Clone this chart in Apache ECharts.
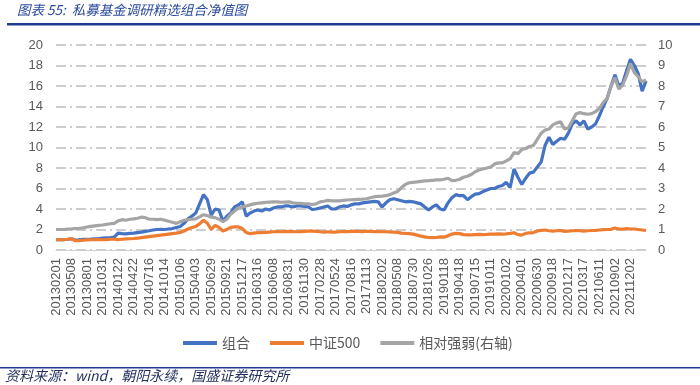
<!DOCTYPE html>
<html>
<head>
<meta charset="utf-8">
<script src="https://cdn.jsdelivr.net/npm/echarts@6/dist/echarts.min.js"></script>
<style>html,body{margin:0;padding:0;background:#fff}#c{width:700px;height:385px}</style>
</head>
<body>
<div id="c"></div>
<script>
// Tick label dates (every ~60 trading days)
const tickDates = ['20130201','20130508','20130801','20131031','20140122','20140422','20140716','20141014','20150106','20150403','20150629','20150921','20151217','20160316','20160608','20160831','20161130','20170228','20170524','20170816','20171113','20180202','20180508','20180730','20181026','20190118','20190418','20190715','20191011','20200102','20200401','20200630','20200918','20201217','20210317','20210611','20210902','20211202'];
const endDate = '20220301';
const pointsPerTick = 4;

// 组合 (left axis), 4 readings per tick interval + final point
const portfolio = [
1.0,1.0,1.02,1.05, 1.1,0.95,1.0,1.03, 1.05,1.07,1.1,1.12, 1.15,1.18,1.2,1.25,
1.65,1.6,1.58,1.62, 1.65,1.7,1.75,1.82, 1.88,1.95,2.0,2.02, 2.0,2.05,2.1,2.2,
2.3,2.6,3.05,3.3, 3.6,4.5,5.4,4.9, 3.4,4.0,3.9,2.8, 3.3,3.6,4.2,4.4,
4.7,3.3,3.6,3.8, 3.9,3.8,4.0,3.9, 4.1,4.2,4.2,4.3, 4.3,4.2,4.3,4.3,
4.25,4.2,3.95,4.0, 4.1,4.2,4.3,4.0, 4.0,4.2,4.3,4.25, 4.4,4.5,4.5,4.6,
4.65,4.7,4.75,4.7, 4.2,4.6,4.9,5.0, 4.9,4.8,4.7,4.75, 4.7,4.6,4.5,4.2,
3.9,4.2,4.4,4.0, 3.9,4.6,5.1,5.4, 5.3,5.3,4.9,5.2, 5.45,5.5,5.7,5.85,
6.0,6.0,6.2,6.3, 6.6,6.1,7.9,7.1, 6.4,7.0,7.5,7.6, 8.1,8.6,10.2,11.0,
10.3,10.6,10.9,10.8, 11.4,12.3,12.6,12.2, 12.6,11.8,12.0,12.3, 13.1,14.0,14.8,16.0,
17.1,16.0,16.3,17.5, 18.6,18.0,17.2,15.5,
16.5];

// 中证500 (left axis)
const csi500 = [
1.0,1.0,1.02,1.05, 1.1,0.9,0.92,0.95, 0.98,1.0,1.0,1.02, 1.0,1.02,1.05,1.05,
1.02,1.05,1.08,1.1, 1.12,1.15,1.2,1.25, 1.3,1.35,1.4,1.45, 1.5,1.55,1.6,1.65,
1.72,1.85,2.05,2.2, 2.3,2.55,2.9,2.6, 2.0,2.4,2.2,1.85, 2.0,2.2,2.25,2.25,
2.1,1.7,1.6,1.65, 1.7,1.7,1.72,1.75, 1.78,1.8,1.78,1.8, 1.82,1.8,1.78,1.8,
1.82,1.85,1.85,1.82, 1.78,1.75,1.78,1.75, 1.75,1.78,1.8,1.8, 1.82,1.85,1.82,1.8,
1.83,1.82,1.8,1.8, 1.78,1.78,1.76,1.75, 1.72,1.65,1.62,1.6, 1.55,1.45,1.35,1.28,
1.22,1.2,1.22,1.28, 1.25,1.4,1.55,1.62, 1.6,1.5,1.48,1.47, 1.5,1.52,1.5,1.52,
1.55,1.55,1.58,1.55, 1.58,1.62,1.68,1.5, 1.45,1.62,1.68,1.7, 1.85,1.92,1.95,1.88,
1.85,1.88,1.9,1.82, 1.85,1.88,1.9,1.88, 1.85,1.88,1.9,1.92, 1.95,1.98,2.0,2.02,
2.15,2.05,2.05,2.08, 2.05,2.05,2.0,1.95,
1.9];

// 相对强弱 (right axis)
const relative = [
1.0,1.0,1.0,1.02, 1.03,1.05,1.06,1.08, 1.12,1.15,1.18,1.2, 1.22,1.25,1.28,1.3,
1.42,1.48,1.45,1.5, 1.52,1.55,1.6,1.58, 1.5,1.5,1.48,1.5, 1.45,1.4,1.35,1.3,
1.38,1.45,1.48,1.5, 1.52,1.62,1.72,1.68, 1.6,1.58,1.5,1.38, 1.5,1.75,1.9,2.05,
2.1,2.15,2.2,2.25, 2.28,2.3,2.32,2.34, 2.35,2.35,2.33,2.34, 2.35,2.3,2.28,2.27,
2.25,2.25,2.22,2.25, 2.35,2.38,2.42,2.4, 2.4,2.4,2.42,2.44, 2.45,2.46,2.47,2.48,
2.5,2.55,2.6,2.62, 2.63,2.65,2.7,2.78, 2.85,3.05,3.2,3.28, 3.3,3.32,3.35,3.37,
3.38,3.4,3.42,3.42, 3.45,3.5,3.38,3.4, 3.45,3.55,3.6,3.68, 3.82,3.9,3.95,4.0,
4.05,4.2,4.25,4.25, 4.35,4.45,4.75,4.7, 4.9,4.95,5.05,5.1, 5.4,5.7,5.85,5.9,
6.1,6.2,6.25,5.9, 5.95,6.3,6.65,6.7, 6.65,6.62,6.65,6.75, 6.9,7.2,7.4,8.0,
8.4,7.85,8.05,8.5, 9.1,8.65,8.45,8.2,
8.3];

const seriesNames = ['组合','中证500','相对强弱(右轴)'];
const colors = ['#4472C4','#ED7D31','#A5A5A5'];

const categories = [];
tickDates.forEach(d => { categories.push(d); for (let j = 1; j < pointsPerTick; j++) categories.push(d + '#' + j); });
categories.push(endDate);
const tickSet = new Set(tickDates);

const chart = echarts.init(document.getElementById('c'), null, {renderer:'canvas'});
const labelFont = {fontFamily:'"Liberation Sans", Arial, sans-serif', fontSize:13, color:'#595959'};
chart.setOption({
  animation:false,
  backgroundColor:'#fff',
  grid:{left:56, right:54, top:45, bottom:135},
  legend:{
    left:183, top:336, padding:0, icon:'rect', itemWidth:34, itemHeight:4, itemGap:20,
    textStyle:{fontFamily:'"Noto Sans CJK SC", sans-serif', fontSize:14, color:'#595959'},
    data:seriesNames
  },
  xAxis:{
    type:'category', data:categories, boundaryGap:false,
    axisLine:{show:true, lineStyle:{color:'#D0D0D0', width:1}},
    axisTick:{show:false},
    axisLabel:Object.assign({rotate:90, margin:8, interval:(i, v) => tickSet.has(v)}, labelFont),
    splitLine:{show:false}
  },
  yAxis:[
    {type:'value', min:0, max:20, interval:2, position:'left',
     axisLine:{show:false}, axisTick:{show:false},
     axisLabel:Object.assign({margin:13}, labelFont),
     splitLine:{show:true, lineStyle:{color:'#BDBDBD', width:1.6, type:[10,4,2,4]}}},
    {type:'value', min:0, max:10, interval:1, position:'right',
     axisLine:{show:false}, axisTick:{show:false},
     axisLabel:Object.assign({margin:12}, labelFont),
     splitLine:{show:false}}
  ],
  series:[
    {name:seriesNames[0], type:'line', yAxisIndex:0, data:portfolio, showSymbol:false, symbol:'none',
     lineStyle:{color:colors[0], width:3.2}, itemStyle:{color:colors[0]}},
    {name:seriesNames[1], type:'line', yAxisIndex:0, data:csi500, showSymbol:false, symbol:'none',
     lineStyle:{color:colors[1], width:3.2}, itemStyle:{color:colors[1]}},
    {name:seriesNames[2], type:'line', yAxisIndex:1, data:relative, showSymbol:false, symbol:'none',
     lineStyle:{color:colors[2], width:3.2}, itemStyle:{color:colors[2]}}
  ],
  graphic:[
    {type:'text', left:17, top:3, style:{text:'图表 55:  私募基金调研精选组合净值图', fill:'#2B4C9B',
      font:'italic 13.5px "Noto Sans CJK SC", sans-serif'}},
    {type:'rect', shape:{x:7, y:23, width:693, height:2.5}, style:{fill:'#1D3C8F'}},
    {type:'rect', shape:{x:0, y:367, width:700, height:1.5}, style:{fill:'#1D3C8F'}},
    {type:'text', left:5, top:369, style:{text:'资料来源：wind，朝阳永续，国盛证券研究所', fill:'#1F2D5A',
      font:'italic 14px "Noto Sans CJK SC", sans-serif'}}
  ]
});
</script>
</body>
</html>
